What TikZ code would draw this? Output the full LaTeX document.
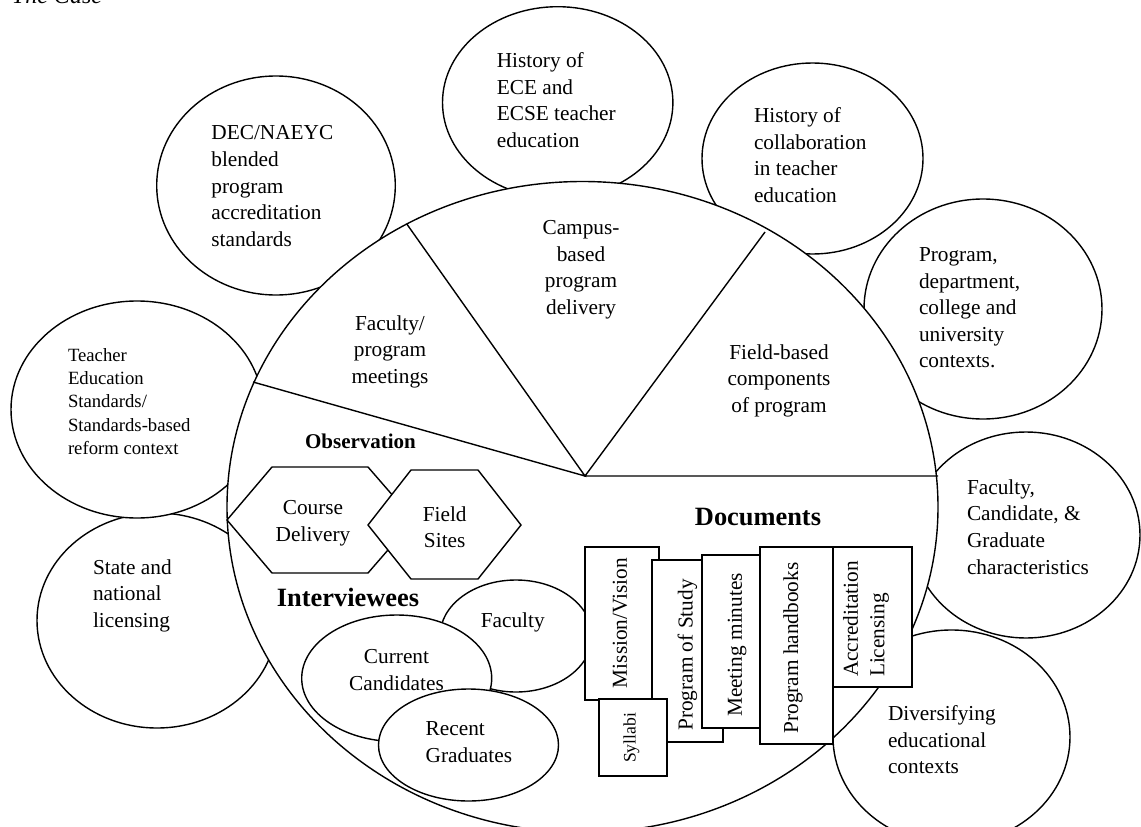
\documentclass[tikz,border=0pt]{standalone}
\usepackage{fontspec}
\setmainfont{Liberation Serif}
\begin{document}
\begin{tikzpicture}[x=1pt,y=-1pt,
  every node/.style={inner sep=0pt, outer sep=0pt},
  shapeline/.style={draw=black, line width=1.4pt, fill=white},
  plainline/.style={draw=black, line width=1.4pt},
  maintext/.style={font=\fontsize{21.3}{26.6}\selectfont},
  smalltext/.style={font=\fontsize{18.7}{23.3}\selectfont},
  outertext/.style={maintext, anchor=north west, align=left},
  pietext/.style={maintext, anchor=north, align=center},
  headtext/.style={font=\fontsize{26.4}{30}\selectfont\bfseries, anchor=base},
  doctext/.style={maintext, rotate=90},
]
\path[use as bounding box, fill=white] (0,0) rectangle (1141,827);

\node[font=\fontsize{24}{28}\selectfont\itshape, anchor=base west] (title) at (12,3.5) {The Case};

% outer ellipses
\draw[shapeline] (157,620.5) ellipse [x radius=120pt, y radius=107.5pt];
\node[outertext] (state) at (93,559.5) {State and\\national\\licensing};

\draw[shapeline] (137,409.5) ellipse [x radius=126pt, y radius=108.5pt];
\node[smalltext, anchor=north west, align=left] (teacher) at (68,348.4) {Teacher\\Education\\Standards/\\Standards-based\\reform context};

\draw[shapeline] (276,185.5) ellipse [x radius=119.3pt, y radius=109.5pt];
\node[outertext] (dec) at (211.4,125.8) {DEC/NAEYC\\blended\\program\\accreditation\\standards};

\draw[shapeline] (557.7,102.5) ellipse [x radius=115.2pt, y radius=95.8pt];
\node[outertext] (ece) at (496.8,52.5) {History of\\ECE and\\ECSE teacher\\education};

\draw[shapeline] (812.5,158.5) ellipse [x radius=110.5pt, y radius=95.5pt];
\node[outertext] (collab) at (754,107.5) {History of\\collaboration\\in teacher\\education};

\draw[shapeline] (983,309) ellipse [x radius=119pt, y radius=110pt];
\node[outertext] (context) at (919,247.5) {Program,\\department,\\college and\\university\\contexts.};

\draw[shapeline] (1026,535) ellipse [x radius=114pt, y radius=103pt];
\node[outertext] (chars) at (967,479.5) {Faculty,\\Candidate, \&\\Graduate\\characteristics};

\draw[shapeline] (951.5,737) ellipse [x radius=118.5pt, y radius=107pt];
\node[outertext] (divers) at (888,705.5) {Diversifying\\educational\\contexts};

% big circle
\draw[shapeline] (582.5,507) ellipse [x radius=355.5pt, y radius=325.5pt];

% pie
\coordinate (apex) at (585,476);
\coordinate (pl) at (253,382);
\coordinate (pul) at (406.8,224);
\coordinate (pur) at (765,232);
\coordinate (pr) at (938,476);
\draw[plainline] (pl) -- (apex) -- (pul);
\draw[plainline] (pur) -- (apex) -- (pr);

\node[pietext] (meet) at (390,315.5) {Faculty/\\program\\meetings};
\node[pietext] (campus) at (581,220.5) {Campus-\\based\\program\\delivery};
\node[pietext] (field) at (779,344.5) {Field-based\\components\\of program};

% observation hexagons
\draw[shapeline] (227,520) -- (272,467) -- (368,467) -- (414,520) -- (368,573) -- (272,573) -- cycle;
\node[pietext] (course) at (313,500.5) {Course\\Delivery};
\draw[shapeline] (368,525) -- (411,470) -- (478,470) -- (521,525) -- (478,579) -- (411,579) -- cycle;
\node[pietext] (sites) at (444.7,506.5) {Field\\Sites};

\node[font=\fontsize{21}{25}\selectfont\bfseries, anchor=base] (obs) at (360.5,448.7) {Observation};
\node[headtext] (inter) at (348,606.7) {Interviewees};
\node[headtext] (docs) at (758,525.7) {Documents};

% interviewees
\draw[shapeline] (516,636) ellipse [x radius=76pt, y radius=56pt];
\node[maintext, anchor=base] (fac) at (512.7,627) {Faculty};
\draw[shapeline] (396.7,678.3) ellipse [x radius=95pt, y radius=63.3pt];
\node[pietext] (cur) at (396.5,649.5) {Current\\Candidates};
\draw[shapeline] (468.5,745) ellipse [x radius=90pt, y radius=56pt];
\node[outertext] (rec) at (425.7,721.5) {Recent\\Graduates};

% documents
\draw[shapeline] (585,547) rectangle (659,700);
\node[doctext] (mission) at (620,623) {Mission/Vision};
\draw[shapeline] (652,560) rectangle (723,742);
\node[doctext] (pos) at (687.5,655) {Program of Study};
\draw[shapeline] (702,555) rectangle (760,728);
\node[doctext] (minutes) at (737,645) {Meeting minutes};
\draw[shapeline] (760,547) rectangle (833,744);
\node[doctext] (hand) at (793,648) {Program handbooks};
\draw[shapeline] (833,547) rectangle (912,687);
\node[doctext, align=left] (accr) at (866,619) {Accreditation\\Licensing};
\draw[shapeline] (599,699) rectangle (667,776);
\node[font=\fontsize{17.6}{21}\selectfont, rotate=90] (syl) at (631.5,738) {Syllabi};
\end{tikzpicture}
\end{document}
